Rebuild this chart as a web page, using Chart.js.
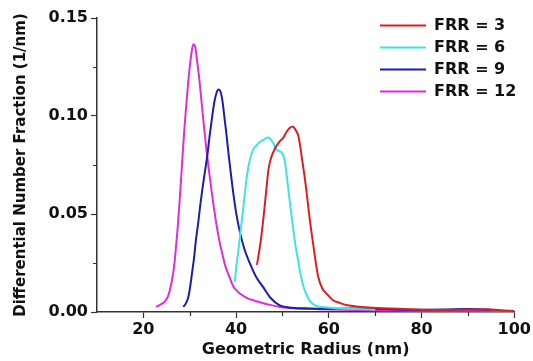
<!DOCTYPE html>
<html>
<head>
<meta charset="utf-8">
<script src="https://cdn.jsdelivr.net/npm/chart.js@4.4.1/dist/chart.umd.min.js"></script>
<style>
  html, body { margin: 0; padding: 0; background: #ffffff; }
  #wrap { width: 533px; height: 361px; }
</style>
</head>
<body>
<div id="wrap"><canvas id="c" width="533" height="361"></canvas></div>
<script>
// ---- data ----
const seriesLabels = ["FRR = 3", "FRR = 6", "FRR = 9", "FRR = 12"];
const seriesColors = ["#da1f26", "#3fe3e3", "#1d1dab", "#dc2edc"];

const radiusFRR3 = [44.5, 45.3, 45.9, 46.5, 47.0, 47.6, 48.3, 49.4, 50.2, 50.9, 51.6, 52.2, 52.8, 53.4, 53.8, 54.1, 54.6, 55.0, 55.5, 55.9, 56.6, 57.2, 57.7, 58.6, 59.5, 60.9, 62.5, 64.0, 66.5, 69.5, 75, 80, 85, 90, 94, 97, 100];
const fracFRR3   = [0.024, 0.036, 0.048, 0.062, 0.073, 0.079, 0.083, 0.087, 0.089, 0.092, 0.094, 0.0947, 0.093, 0.090, 0.085, 0.080, 0.072, 0.065, 0.055, 0.047, 0.035, 0.025, 0.018, 0.012, 0.0094, 0.006, 0.0045, 0.0034, 0.0027, 0.0022, 0.0016, 0.0012, 0.0010, 0.0012, 0.0014, 0.0009, 0.0005];

const radiusFRR6 = [39.7, 40.1, 40.5, 41.0, 41.5, 42.0, 42.5, 43.0, 43.7, 44.4, 45.1, 46.0, 46.9, 47.8, 48.7, 49.3, 49.8, 50.5, 51.0, 51.4, 51.8, 52.3, 52.8, 53.4, 54.0, 54.8, 55.8, 57.0, 59, 62, 66, 70];
const fracFRR6   = [0.0153, 0.024, 0.0315, 0.042, 0.052, 0.063, 0.072, 0.078, 0.083, 0.085, 0.0867, 0.088, 0.089, 0.087, 0.083, 0.082, 0.0815, 0.077, 0.068, 0.060, 0.052, 0.043, 0.034, 0.026, 0.018, 0.011, 0.006, 0.0034, 0.0024, 0.0018, 0.0015, 0.0012];

const radiusFRR9 = [28.6, 29.2, 29.7, 30.1, 30.5, 30.9, 31.3, 31.8, 32.3, 32.8, 33.3, 33.8, 34.3, 34.8, 35.3, 35.8, 36.2, 36.7, 37.1, 37.5, 37.9, 38.4, 39.0, 39.6, 40.2, 40.8, 41.8, 43.0, 44.3, 45.8, 47.5, 49.4, 52, 56, 60, 65, 70, 75, 80, 85, 90, 95];
const fracFRR9   = [0.0026, 0.0045, 0.0077, 0.013, 0.020, 0.027, 0.036, 0.045, 0.055, 0.064, 0.072, 0.080, 0.090, 0.099, 0.107, 0.112, 0.1135, 0.112, 0.107, 0.099, 0.091, 0.080, 0.068, 0.057, 0.048, 0.041, 0.032, 0.0247, 0.018, 0.0128, 0.007, 0.0034, 0.0022, 0.0018, 0.0016, 0.0018, 0.0017, 0.0013, 0.0012, 0.0013, 0.0015, 0.0012];

const radiusFRR12 = [22.75, 23.5, 24.2, 24.7, 25.3, 25.7, 26.1, 26.5, 26.8, 27.1, 27.4, 27.8, 28.2, 28.6, 28.9, 29.3, 29.7, 30.1, 30.5, 30.8, 31.2, 31.6, 32.1, 32.6, 33.1, 33.6, 34.1, 34.6, 35.1, 35.6, 36.1, 36.6, 37.1, 37.6, 38.2, 38.7, 39.4, 40.1, 40.8, 42.5, 43.7, 45.1, 47.5, 49.4, 53, 58, 65, 72, 80, 90, 100];
const fracFRR12   = [0.0026, 0.0035, 0.0045, 0.0055, 0.008, 0.011, 0.0153, 0.021, 0.027, 0.035, 0.043, 0.056, 0.070, 0.085, 0.095, 0.107, 0.118, 0.127, 0.134, 0.1366, 0.135, 0.128, 0.118, 0.106, 0.094, 0.083, 0.073, 0.064, 0.055, 0.047, 0.040, 0.034, 0.029, 0.024, 0.020, 0.017, 0.013, 0.011, 0.0094, 0.007, 0.006, 0.005, 0.0035, 0.0026, 0.0018, 0.0014, 0.0010, 0.0008, 0.0006, 0.0006, 0.0005];

const xMajorTicks = [20, 40, 60, 80, 100];
const xMinorTicks = [30, 50, 70, 90];
const yMajorTicks = [0, 0.05, 0.10, 0.15];
const yMinorTicks = [0.025, 0.075, 0.125];

// ---- build datasets ----
const radii = [radiusFRR3, radiusFRR6, radiusFRR9, radiusFRR12];
const fracs = [fracFRR3, fracFRR6, fracFRR9, fracFRR12];
const datasets = seriesLabels.map((lab, i) => ({
  label: lab,
  data: radii[i].map((x, k) => ({ x: x, y: fracs[i][k] })),
  borderColor: seriesColors[i],
  backgroundColor: seriesColors[i],
  borderWidth: 2,
  pointRadius: 0,
  cubicInterpolationMode: 'monotone',
  fill: false
}));

const FONT = "'DejaVu Sans', 'Liberation Sans', Arial, sans-serif";
const AXIS_COLOR = '#333333';

// minor ticks drawn via the scales
const minorTicks = {
  id: 'minorTicks',
  afterDraw(chart) {
    const ctx = chart.ctx;
    const xs = chart.scales.x, ys = chart.scales.y;
    ctx.save();
    ctx.strokeStyle = AXIS_COLOR;
    ctx.lineWidth = 1.2;
    ctx.beginPath();
    xMinorTicks.forEach(v => {
      const px = Math.round(xs.getPixelForValue(v)) + 0.5;
      ctx.moveTo(px, ys.bottom);
      ctx.lineTo(px, ys.bottom + 4);
    });
    yMinorTicks.forEach(v => {
      const py = Math.round(ys.getPixelForValue(v)) + 0.5;
      ctx.moveTo(xs.left, py);
      ctx.lineTo(xs.left - 4, py);
    });
    ctx.stroke();
    ctx.restore();
  }
};

// place the legend in the upper right corner of the plot
const legendPlace = {
  id: 'legendPlace',
  afterLayout(chart) {
    const lg = chart.legend;
    if (!lg) return;
    const w = lg.width, h = lg.height;
    lg.left = 374;
    lg.right = lg.left + w;
    lg.top = 11.5;
    lg.bottom = lg.top + h;
  }
};

new Chart(document.getElementById('c'), {
  type: 'line',
  data: { datasets: datasets },
  options: {
    responsive: false,
    animation: false,
    devicePixelRatio: 1,
    layout: { padding: { top: 18, right: 18, left: 0, bottom: 0 } },
    plugins: {
      legend: {
        position: 'chartArea',
        align: 'start',
        labels: {
          usePointStyle: true,
          pointStyle: 'line',
          pointStyleWidth: 46,
          padding: 6,
          color: '#111111',
          font: { family: FONT, size: 16, weight: 'bold' }
        }
      },
      tooltip: { enabled: false },
      title: { display: false }
    },
    scales: {
      x: {
        type: 'linear',
        min: 10,
        max: 100,
        afterBuildTicks(scale) { scale.ticks = xMajorTicks.map(v => ({ value: v })); },
        afterFit(scale) { scale.height = 49; },
        grid: { display: true, drawOnChartArea: false, drawTicks: true, tickLength: 6, tickColor: AXIS_COLOR, tickWidth: 1.2 },
        border: { display: true, color: AXIS_COLOR, width: 1.5 },
        ticks: {
          color: '#111111',
          padding: 2,
          maxRotation: 0,
          font: { family: FONT, size: 16, weight: 'bold' },
          callback: (v) => String(v)
        },
        title: {
          display: true,
          text: 'Geometric Radius (nm)',
          color: '#111111',
          padding: { top: 0, bottom: 2 },
          font: { family: FONT, size: 16, weight: 'bold' }
        }
      },
      y: {
        type: 'linear',
        min: 0,
        max: 0.15,
        afterBuildTicks(scale) { scale.ticks = yMajorTicks.map(v => ({ value: v })); },
        afterFit(scale) { scale.width = 97; },
        grid: { display: true, drawOnChartArea: false, drawTicks: true, tickLength: 6, tickColor: AXIS_COLOR, tickWidth: 1.2 },
        border: { display: true, color: AXIS_COLOR, width: 1.5 },
        ticks: {
          color: '#111111',
          padding: 3,
          font: { family: FONT, size: 16, weight: 'bold' },
          callback: (v) => Number(v).toFixed(2)
        },
        title: {
          display: true,
          text: 'Differential Number Fraction (1/nm)',
          color: '#111111',
          padding: { top: 12, bottom: 0 },
          font: { family: FONT, size: 15, weight: 'bold' }
        }
      }
    }
  },
  plugins: [minorTicks, legendPlace]
});
</script>
</body>
</html>
